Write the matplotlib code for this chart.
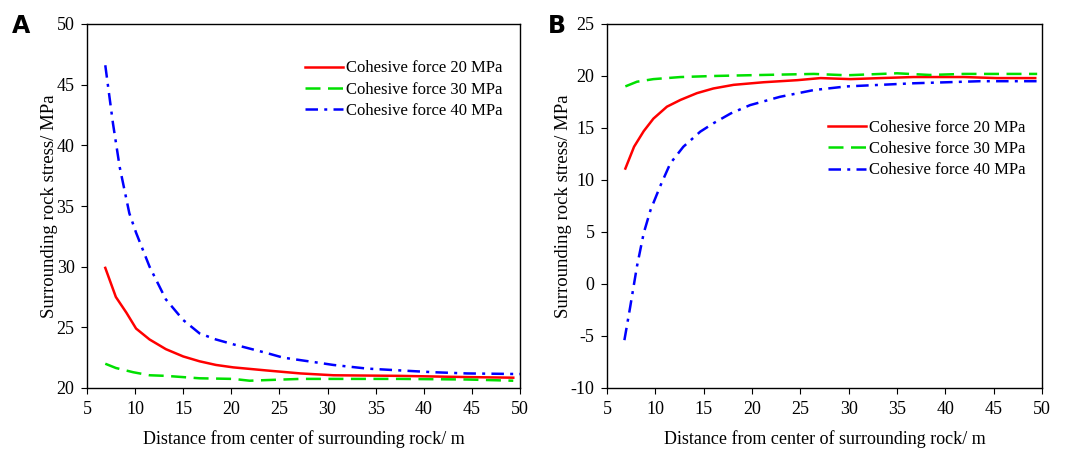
import numpy as np
import matplotlib.pyplot as plt

plt.rcParams['font.family'] = ['Liberation Serif', 'DejaVu Serif']
plt.rcParams['axes.unicode_minus'] = False

# --- Data ---
# Panel A
xa_40 = [6.9, 7.7, 8.4, 9.4, 10.1, 11.5, 13.2, 15.0, 16.7, 18.4, 20.2, 23.6, 25.4, 28.9, 30.6, 34.1, 37.5, 41.0, 44.5, 50.0]
ya_40 = [46.6, 41.8, 38.2, 34.4, 32.8, 30.0, 27.3, 25.6, 24.5, 24.0, 23.6, 22.9, 22.5, 22.1, 21.9, 21.6, 21.45, 21.3, 21.2, 21.15]
xa_20 = [6.9, 8.0, 9.1, 10.1, 11.5, 13.2, 15.0, 16.7, 18.4, 20.2, 23.6, 27.2, 30.6, 37.5, 44.5, 49.3]
ya_20 = [29.9, 27.5, 26.2, 24.9, 24.0, 23.2, 22.6, 22.2, 21.9, 21.7, 21.45, 21.2, 21.05, 21.0, 20.9, 20.85]
xa_30 = [6.9, 8.0, 9.8, 11.5, 13.2, 16.7, 20.2, 21.9, 23.6, 27.2, 30.6, 37.5, 44.5, 49.3]
ya_30 = [22.0, 21.65, 21.3, 21.05, 21.0, 20.8, 20.75, 20.6, 20.65, 20.75, 20.75, 20.75, 20.7, 20.6]

# Panel B
xb_20 = [6.9, 7.8, 8.8, 9.8, 11.2, 12.6, 14.3, 16.0, 18.1, 21.2, 24.7, 27.1, 30.2, 33.3, 36.7, 41.9, 45.3, 49.3]
yb_20 = [11.1, 13.2, 14.7, 15.9, 17.05, 17.7, 18.35, 18.8, 19.15, 19.4, 19.6, 19.8, 19.7, 19.8, 19.9, 19.9, 19.8, 19.8]
xb_30 = [6.9, 8.1, 9.8, 12.6, 16.0, 19.5, 26.4, 29.8, 35.0, 38.4, 41.9, 49.5]
yb_30 = [19.0, 19.45, 19.7, 19.9, 20.0, 20.07, 20.2, 20.07, 20.26, 20.1, 20.2, 20.2]
xb_40 = [6.8, 7.4, 8.1, 8.8, 9.5, 10.5, 11.55, 12.9, 14.65, 16.0, 17.8, 19.8, 22.9, 26.4, 29.8, 33.3, 36.7, 40.2, 43.6, 49.6]
yb_40 = [-5.4, -2.2, 1.7, 4.9, 7.1, 9.4, 11.6, 13.2, 14.65, 15.45, 16.4, 17.2, 18.0, 18.65, 19.0, 19.15, 19.3, 19.4, 19.5, 19.5]

labels = ['Cohesive force 20 MPa', 'Cohesive force 30 MPa', 'Cohesive force 40 MPa']
x_ticks = [5, 10, 15, 20, 25, 30, 35, 40, 45, 50]

fig = plt.figure(figsize=(10.67, 4.5), dpi=100)
ax_a = fig.add_axes([87 / 1067, 62 / 450, 433 / 1067, 364 / 450])
ax_b = fig.add_axes([607 / 1067, 62 / 450, 435 / 1067, 364 / 450])

red_kw = dict(color='#ff0000', lw=1.8, ls='-')
green_kw = dict(color='#00e000', lw=1.8, ls=(0, (6, 3)))
blue_kw = dict(color='#0000ff', lw=1.8, ls=(0, (5, 2.5, 1.2, 2.5)))

for ax, data in [(ax_a, [(xa_20, ya_20), (xa_30, ya_30), (xa_40, ya_40)]),
                 (ax_b, [(xb_20, yb_20), (xb_30, yb_30), (xb_40, yb_40)])]:
    for (x, y), kw, lab in zip(data, [red_kw, green_kw, blue_kw], labels):
        ax.plot(x, y, label=lab, **kw)
    ax.set_xlim(5, 50)
    ax.set_xticks(x_ticks)
    ax.tick_params(direction='out', length=4, labelsize=13, pad=5, top=False, right=False)
    ax.set_xlabel('Distance from center of surrounding rock/ m', fontsize=13, labelpad=9)
    ax.set_ylabel('Surrounding rock stress/ MPa', fontsize=13.5, labelpad=-1)
    for s in ax.spines.values():
        s.set_linewidth(1.0)

ax_a.set_ylim(20, 50)
ax_a.set_yticks([20, 25, 30, 35, 40, 45, 50])
ax_b.set_ylim(-10, 25)
ax_b.set_yticks([-10, -5, 0, 5, 10, 15, 20, 25])

leg_kw = dict(frameon=False, fontsize=12, handlelength=2.3, handletextpad=0.15,
              labelspacing=0.32, borderaxespad=0, borderpad=0)
ax_a.legend(loc='upper left', bbox_to_anchor=(0.503, 0.90), **leg_kw)
ax_b.legend(loc='upper left', bbox_to_anchor=(0.508, 0.737), **leg_kw)

fig.text(12 / 1067, 1 - 26 / 450, 'A', fontsize=17, fontweight='bold', family='DejaVu Sans', va='center')
fig.text(548 / 1067, 1 - 26 / 450, 'B', fontsize=17, fontweight='bold', family='DejaVu Sans', va='center')

fig.savefig('out.png', dpi=100)
